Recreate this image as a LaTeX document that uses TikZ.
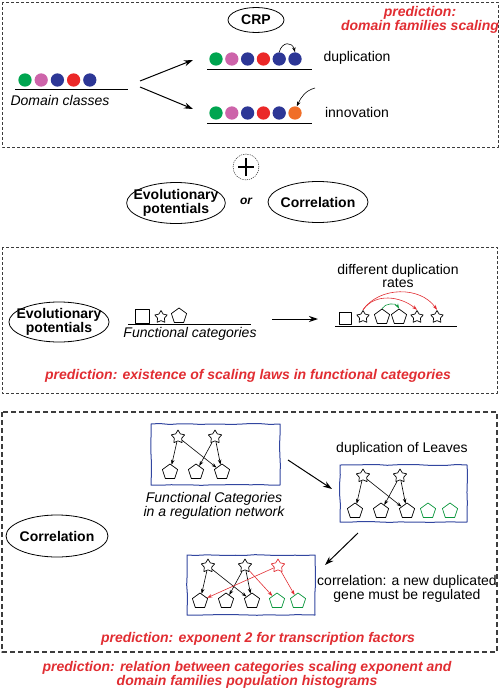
\documentclass[tikz,border=0pt]{standalone}
\usepackage{fontspec}
\setmainfont{Liberation Sans}
\usetikzlibrary{shapes.geometric,decorations.pathmorphing,arrows.meta}
\definecolor{dgreen}{RGB}{0,165,80}
\definecolor{dpink}{RGB}{205,100,170}
\definecolor{dblue}{RGB}{45,55,150}
\definecolor{dred}{RGB}{235,40,40}
\definecolor{dorange}{RGB}{240,110,40}
\definecolor{predred}{RGB}{225,45,50}
\definecolor{netblue}{RGB}{50,70,160}
\definecolor{netgreen}{RGB}{10,150,60}
\definecolor{boxgray}{RGB}{60,60,60}
\newcommand{\sz}{\fontsize{14}{13.5}\selectfont}
\tikzstyle{dashbox}=[draw=boxgray, line width=0.8pt, dash pattern=on 3pt off 2pt]
\tikzstyle{thickbox}=[draw=boxgray, line width=1.6pt, dash pattern=on 5pt off 3pt]
\tikzstyle{netbox}=[draw=netblue, line width=1pt, decorate, decoration={random steps,segment length=10pt,amplitude=0.5pt}]
\tikzstyle{domcircle}=[circle, minimum size=13.3pt, inner sep=0pt]
\tikzstyle{oval}=[draw, ellipse, line width=0.8pt, inner sep=0pt, font=\sz\bfseries, align=center]
\tikzstyle{pred}=[text=predred, font=\sz\bfseries\itshape, align=center]
\tikzstyle{tf}=[draw, star, star points=5, star point ratio=1.8, minimum size=14pt, inner sep=0pt, line width=0.7pt]
\tikzstyle{leaf}=[draw, regular polygon, regular polygon sides=5, minimum size=16pt, inner sep=0pt, line width=0.7pt]
\tikzstyle{catbox}=[draw, rectangle, minimum size=14pt, inner sep=0pt, line width=0.7pt]
\tikzstyle{reg}=[-{Stealth[length=5pt,width=3.5pt]}, line width=0.6pt]
\tikzstyle{bigarrow}=[-{Stealth[length=9pt,width=6pt]}, line width=1pt]
\newcommand{\drawdomains}[5]{
% #1 prefix, #2 x of first, #3 y, #4 spacing, #5 colours
\foreach \col [count=\i] in {#5} {
  \pgfmathsetmacro{\x}{#2+#4*(\i-1)}
  \node[domcircle, fill=\col] (#1\i) at (\x,#3) {};
}
}
\newcommand{\drawnet}[3]{
% #1 prefix, #2/#3 position of the first regulator
\node[tf] (#1s1) at (#2,#3) {};
\node[tf] (#1s2) at (#2+37,#3) {};
\foreach \i/\dx in {1/-8,2/18,3/44} {
  \node[leaf] (#1p\i) at (#2+\dx,#3+35) {};
}
\draw[reg] (#1s1) -- (#1p1);
\draw[reg] (#1s1) -- (#1p3);
\draw[reg] (#1s2) -- (#1p2);
\draw[reg] (#1s2) -- (#1p3);
}
\begin{document}
\begin{tikzpicture}[x=1pt, y=-1pt, font=\sz, line join=round]
\useasboundingbox (0,0) rectangle (500,690);
\pgfmathsetseed{7}

% CRP block
\draw[dashbox] (2,2) rectangle (498,147);
\node[oval, minimum width=54pt, minimum height=25pt, inner xsep=5pt] (crp) at (256,20) {CRP};
\node[pred] (predcrp) at (420,20) {prediction:\\domain families scaling};
\drawdomains{a}{25}{80}{16.2}{dgreen,dpink,dblue,dred,dblue}
\draw[line width=0.9pt] (15,89) -- (128,89);
\node[font=\sz\itshape] (dclass) at (60,100) {Domain classes};
\coordinate (split1) at (140,81);
\coordinate (split2) at (140,87);
\coordinate (dupin) at (193,60);
\coordinate (innin) at (193,109);
\draw[bigarrow] (split1) -- (dupin);
\draw[bigarrow] (split2) -- (innin);
\drawdomains{b}{216}{59}{15.8}{dgreen,dpink,dblue,dred,dblue,dblue}
\draw[line width=0.9pt] (207,69) -- (312,69);
\drawdomains{c}{216}{113}{15.8}{dgreen,dpink,dblue,dred,dblue,dorange}
\draw[line width=0.9pt] (207,123) -- (312,123);
\node (dup) at (357,58) {duplication};
\node (inn) at (357,112) {innovation};
\draw[reg] (b5.north) to[out=75,in=105,looseness=1.8] (b6.north);
\coordinate (newdom) at (315,88);
\draw[reg] (newdom) to[out=195,in=65] (c6.75);

% plus and the two alternatives
\node[draw, circle, dash pattern=on 1.2pt off 1pt, minimum size=26pt, inner sep=0pt] (plus) at (246,167) {};
\draw[line width=2pt] ([xshift=-8pt]plus.center) -- ([xshift=8pt]plus.center);
\draw[line width=2pt] ([yshift=-9pt]plus.center) -- ([yshift=9pt]plus.center);
\node[oval, minimum height=41pt, inner xsep=-7.5pt] (evo) at (176,203) {Evolutionary\\potentials};
\node[font=\fontsize{12}{12}\selectfont\bfseries\itshape] (or) at (246,201) {or};
\node[oval, minimum height=41pt, inner xsep=-2pt] (corr) at (318,202) {Correlation};

% evolutionary potentials block
\draw[dashbox] (2,247) rectangle (497,393);
\node[oval, minimum height=40pt, inner xsep=-7pt] (evo2) at (59,322) {Evolutionary\\potentials};
\node[catbox] (fsq) at (142,316) {};
\node[tf, minimum size=13pt] (fstar) at (161,317) {};
\node[leaf] (fpent) at (179,316) {};
\draw[line width=0.9pt] (128,324) -- (251,324);
\node[font=\sz\itshape] (fcat) at (190,334) {Functional categories};
\coordinate (evostart) at (272,319);
\coordinate (evoend) at (318,319);
\draw[bigarrow] (evostart) -- (evoend);
\node[catbox, minimum size=12pt] (r1) at (345,318) {};
\node[tf, minimum size=13pt] (r2) at (363,317) {};
\node[leaf] (r3) at (382,317) {};
\node[leaf] (r4) at (399,317) {};
\node[tf, minimum size=13pt] (r5) at (417,317) {};
\node[tf, minimum size=13pt] (r6) at (437,317) {};
\draw[line width=0.9pt] (335,326) -- (457,326);
\draw[reg, netgreen] (r3.north) to[out=60,in=120] (r4.north);
\draw[reg, predred] (r2.north) to[out=55,in=140] (r5.north);
\draw[reg, predred] (r2.north) to[out=55,in=125] (r6.north);
\node[align=center] (rates) at (398,276) {different duplication\\rates};
\node[pred] (predevo) at (248,376) {prediction: existence of scaling laws in functional categories};

% correlation block
\draw[thickbox] (2,412) rectangle (497,652);
\node[oval, minimum height=42pt, inner xsep=-1.3pt] (corr2) at (57,536) {Correlation};
\draw[netbox] (151,424) rectangle (280,485);
\drawnet{na}{178}{437}
\node[font=\sz\itshape, align=center] (netlabel) at (214,506) {Functional Categories\\in a regulation network};
\coordinate (dupA) at (288,460);
\coordinate (dupB) at (332,489);
\draw[bigarrow] (dupA) -- (dupB);
\node (dupleaves) at (402,449) {duplication of Leaves};
\draw[netbox] (340,465) rectangle (467,522);
\drawnet{nb}{363}{476}
\node[leaf, draw=netgreen] (nbp4) at (428,511) {};
\node[leaf, draw=netgreen] (nbp5) at (450,511) {};
\coordinate (corA) at (358,533);
\coordinate (corB) at (325,565);
\draw[bigarrow] (corA) -- (corB);
\draw[netbox] (187,555) rectangle (315,615);
\drawnet{nc}{208}{566}
\node[tf, draw=predred] (ncs3) at (278,566) {};
\node[leaf, draw=netgreen] (ncp4) at (277,601) {};
\node[leaf, draw=netgreen] (ncp5) at (298,601) {};
\draw[reg, predred] (ncs2) -- (ncp4);
\draw[reg, predred] (ncs3) -- (ncp1);
\draw[reg, predred] (ncs3) -- (ncp5);
\node[align=center] (corrtext) at (407,589) {correlation: a new duplicated\\gene must be regulated};
\node[pred] (predcorr) at (258,639) {prediction: exponent 2 for transcription factors};
\node[pred] (predall) at (247,675) {prediction: relation between categories scaling exponent and\\domain families population histograms};
\end{tikzpicture}
\end{document}
